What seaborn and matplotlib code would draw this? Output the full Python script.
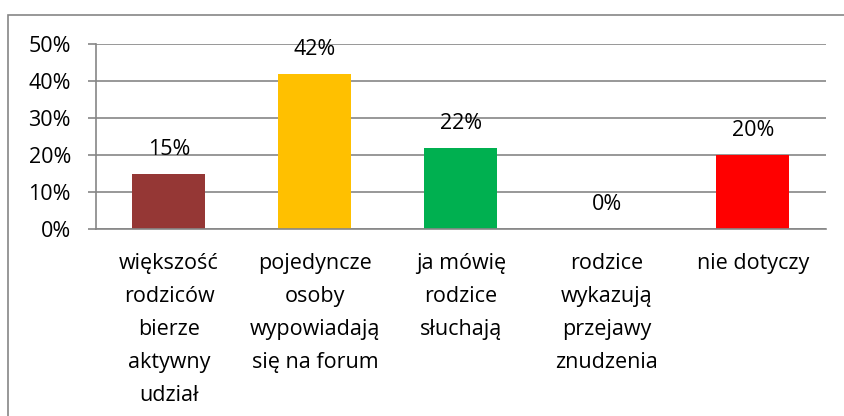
import matplotlib.pyplot as plt
import pandas as pd
import seaborn as sns
from matplotlib.patches import Rectangle

categories = [
    "większość\nrodziców\nbierze\naktywny\nudział",
    "pojedyncze\nosoby\nwypowiadają\nsię na forum",
    "ja mówię\nrodzice\nsłuchają",
    "rodzice\nwykazują\nprzejawy\nznudzenia",
    "nie dotyczy",
]
values = [0.15, 0.42, 0.22, 0.0, 0.20]
colors = ["#953735", "#FFC000", "#00B050", "#4F81BD", "#FF0000"]

df = pd.DataFrame({"category": categories, "value": values})

sns.set_theme(style="white")
plt.rcParams["font.family"] = ["Open Sans", "DejaVu Sans"]
plt.rcParams["text.color"] = "black"
plt.rcParams["xtick.labelcolor"] = "black"
plt.rcParams["ytick.labelcolor"] = "black"
FS = 15.5

fig = plt.figure(figsize=(8.45, 4.16), dpi=100)
ax = fig.add_axes([96 / 845, 1 - 229 / 416, 730 / 845, 185 / 416])

sns.barplot(
    data=df, x="category", y="value", hue="category",
    palette=colors, width=0.5, legend=False, ax=ax, saturation=1, linewidth=0,
)

grid_color = "#868686"
ax.set_ylim(0, 0.5)
ax.set_xlim(-0.5, len(categories) - 0.5)
ax.set_yticks([0, 0.1, 0.2, 0.3, 0.4, 0.5])
ax.set_yticklabels([f"{int(round(v * 100))}%" for v in ax.get_yticks()], fontsize=FS)
ax.yaxis.grid(True, color=grid_color, linewidth=1.2)
ax.set_axisbelow(True)

ax.set_xticks([i - 0.5 for i in range(len(categories) + 1)], minor=True)
ax.set_xticks(range(len(categories)))
ax.set_xticklabels(categories, fontsize=FS, linespacing=1.75)
ax.tick_params(axis="x", which="major", length=0, pad=17)
ax.tick_params(axis="x", which="minor", length=5.5, width=1.2, color=grid_color, direction="out")
ax.tick_params(axis="y", length=6, width=1.2, color=grid_color, left=True, direction="out", pad=12)
ax.set_xlabel("")
ax.set_ylabel("")

for side in ["top", "right"]:
    ax.spines[side].set_visible(False)
for side in ["left", "bottom"]:
    ax.spines[side].set_color(grid_color)
    ax.spines[side].set_linewidth(1.2)

for container in ax.containers:
    ax.bar_label(container, labels=[f"{int(round(v * 100))}%" for v in container.datavalues],
                 padding=10, fontsize=FS, color="black")

fig.patches.append(Rectangle((8 / 845, -0.01), 1, 1 - 15 / 416 + 0.01,
                             transform=fig.transFigure, fill=False,
                             edgecolor="#868686", linewidth=1.2))

fig.savefig("out.png", dpi=100)
